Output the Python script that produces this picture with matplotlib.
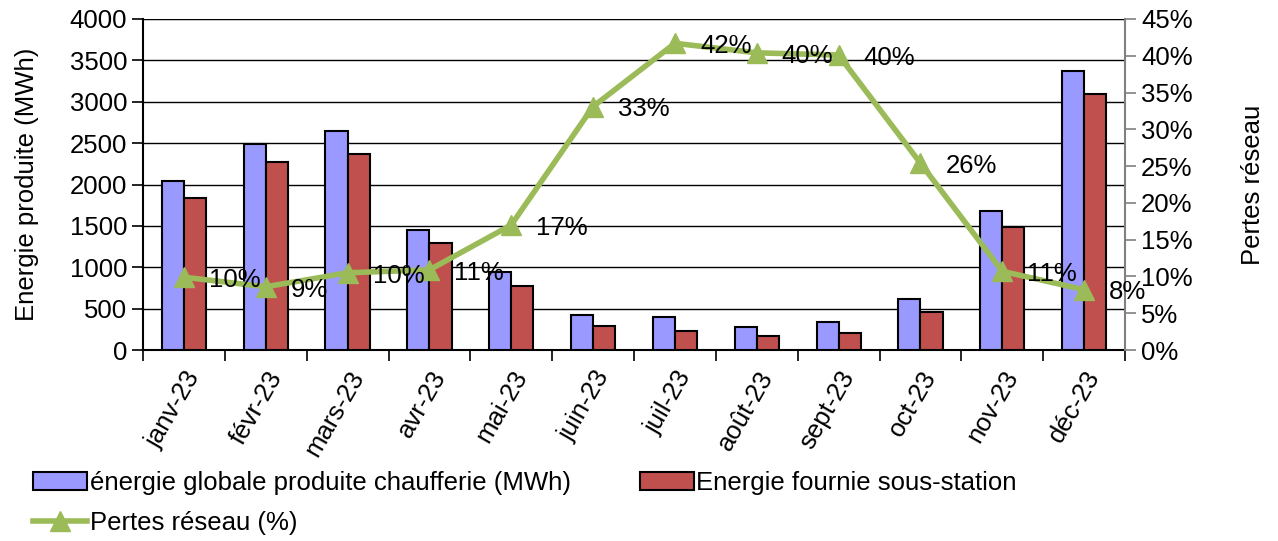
import numpy as np
import matplotlib
matplotlib.use("Agg")
import matplotlib.pyplot as plt
from matplotlib.ticker import FuncFormatter, MultipleLocator

plt.rcParams['font.family'] = ['Liberation Sans', 'DejaVu Sans']

# data
mois = ['janv-23', 'févr-23', 'mars-23', 'avr-23', 'mai-23', 'juin-23',
        'juil-23', 'août-23', 'sept-23', 'oct-23', 'nov-23', 'déc-23']
produite = [2040, 2488, 2646, 1455, 941, 428, 404, 274, 335, 618, 1676, 3377]
fournie = [1838, 2274, 2367, 1297, 771, 295, 234, 165, 201, 456, 1486, 3098]
pertes = [9.9, 8.6, 10.5, 10.9, 17.0, 33.1, 41.7, 40.4, 40.1, 25.4, 10.7, 8.2]
pertes_lbl = ['10%', '9%', '10%', '11%', '17%', '33%', '42%', '40%', '40%', '26%', '11%', '8%']

fs = 18.5
fig = plt.figure(figsize=(12.78, 5.41), dpi=100)
ax = fig.add_axes([0.1119, 0.353, 0.7684, 0.6119])

x = np.arange(len(mois))
w = 0.27
b1 = ax.bar(x - w / 2, produite, w, color='#9999FF', edgecolor='black', linewidth=1.5,
            label='énergie globale produite chaufferie (MWh)', zorder=3)
b2 = ax.bar(x + w / 2, fournie, w, color='#C0504D', edgecolor='black', linewidth=1.5,
            label='Energie fournie sous-station', zorder=3)

ax.set_xlim(-0.5, len(mois) - 0.5)
ax.set_ylim(0, 4000)
ax.yaxis.set_major_locator(MultipleLocator(500))
ax.grid(axis='y', color='black', linewidth=1, zorder=0)
ax.set_axisbelow(True)
for s in ['top', 'right']:
    ax.spines[s].set_visible(False)
ax.spines['left'].set_linewidth(1.5)
ax.spines['bottom'].set_linewidth(1.5)

ax.set_xticks(x)
ax.set_xticklabels(mois, rotation=60, ha='right', rotation_mode='anchor', fontsize=fs)
ax.set_xticks(np.arange(-0.5, len(mois) + 0.5, 1), minor=True)
ax.tick_params(axis='x', which='major', length=0, pad=12)
ax.tick_params(axis='x', which='minor', length=8, width=1.2, direction='out')
ax.tick_params(axis='y', labelsize=fs, length=8, width=1.2)
ax.set_ylabel('Energie produite (MWh)', fontsize=fs, labelpad=22)

ax2 = ax.twinx()
ax2.set_ylim(0, 45)
ax2.yaxis.set_major_locator(MultipleLocator(5))
ax2.yaxis.set_major_formatter(FuncFormatter(lambda v, p: f'{v:.0f}%'))
for s in ['top', 'left', 'bottom']:
    ax2.spines[s].set_visible(False)
ax2.spines['right'].set_color('#808080')
ax2.spines['right'].set_linewidth(1.5)
ax2.tick_params(axis='y', labelsize=fs, length=8, width=1.2, color='#808080')
ax2.set_ylabel('Pertes réseau', fontsize=fs, labelpad=35)

ln, = ax2.plot(x, pertes, color='#9BBB59', linewidth=4, marker='^', markersize=14,
               label='Pertes réseau (%)', zorder=5)
for xi, yi, t in zip(x, pertes, pertes_lbl):
    ax2.annotate(t, (xi, yi), xytext=(18, -2), textcoords='offset points',
                 ha='left', va='center', fontsize=fs, zorder=6)

# top border line
ax.axhline(4000, color='black', linewidth=1.5, zorder=4)

# order so rows read: blue, red / line
fig.legend(handles=[b1, ln, b2], loc='lower left', bbox_to_anchor=(33 / 1278, 0.012),
           ncol=2, frameon=False, fontsize=fs, handlelength=2.1, handletextpad=0.1,
           columnspacing=2.7, labelspacing=0.6, borderpad=0, borderaxespad=0)

fig.savefig('out.png', dpi=100)
